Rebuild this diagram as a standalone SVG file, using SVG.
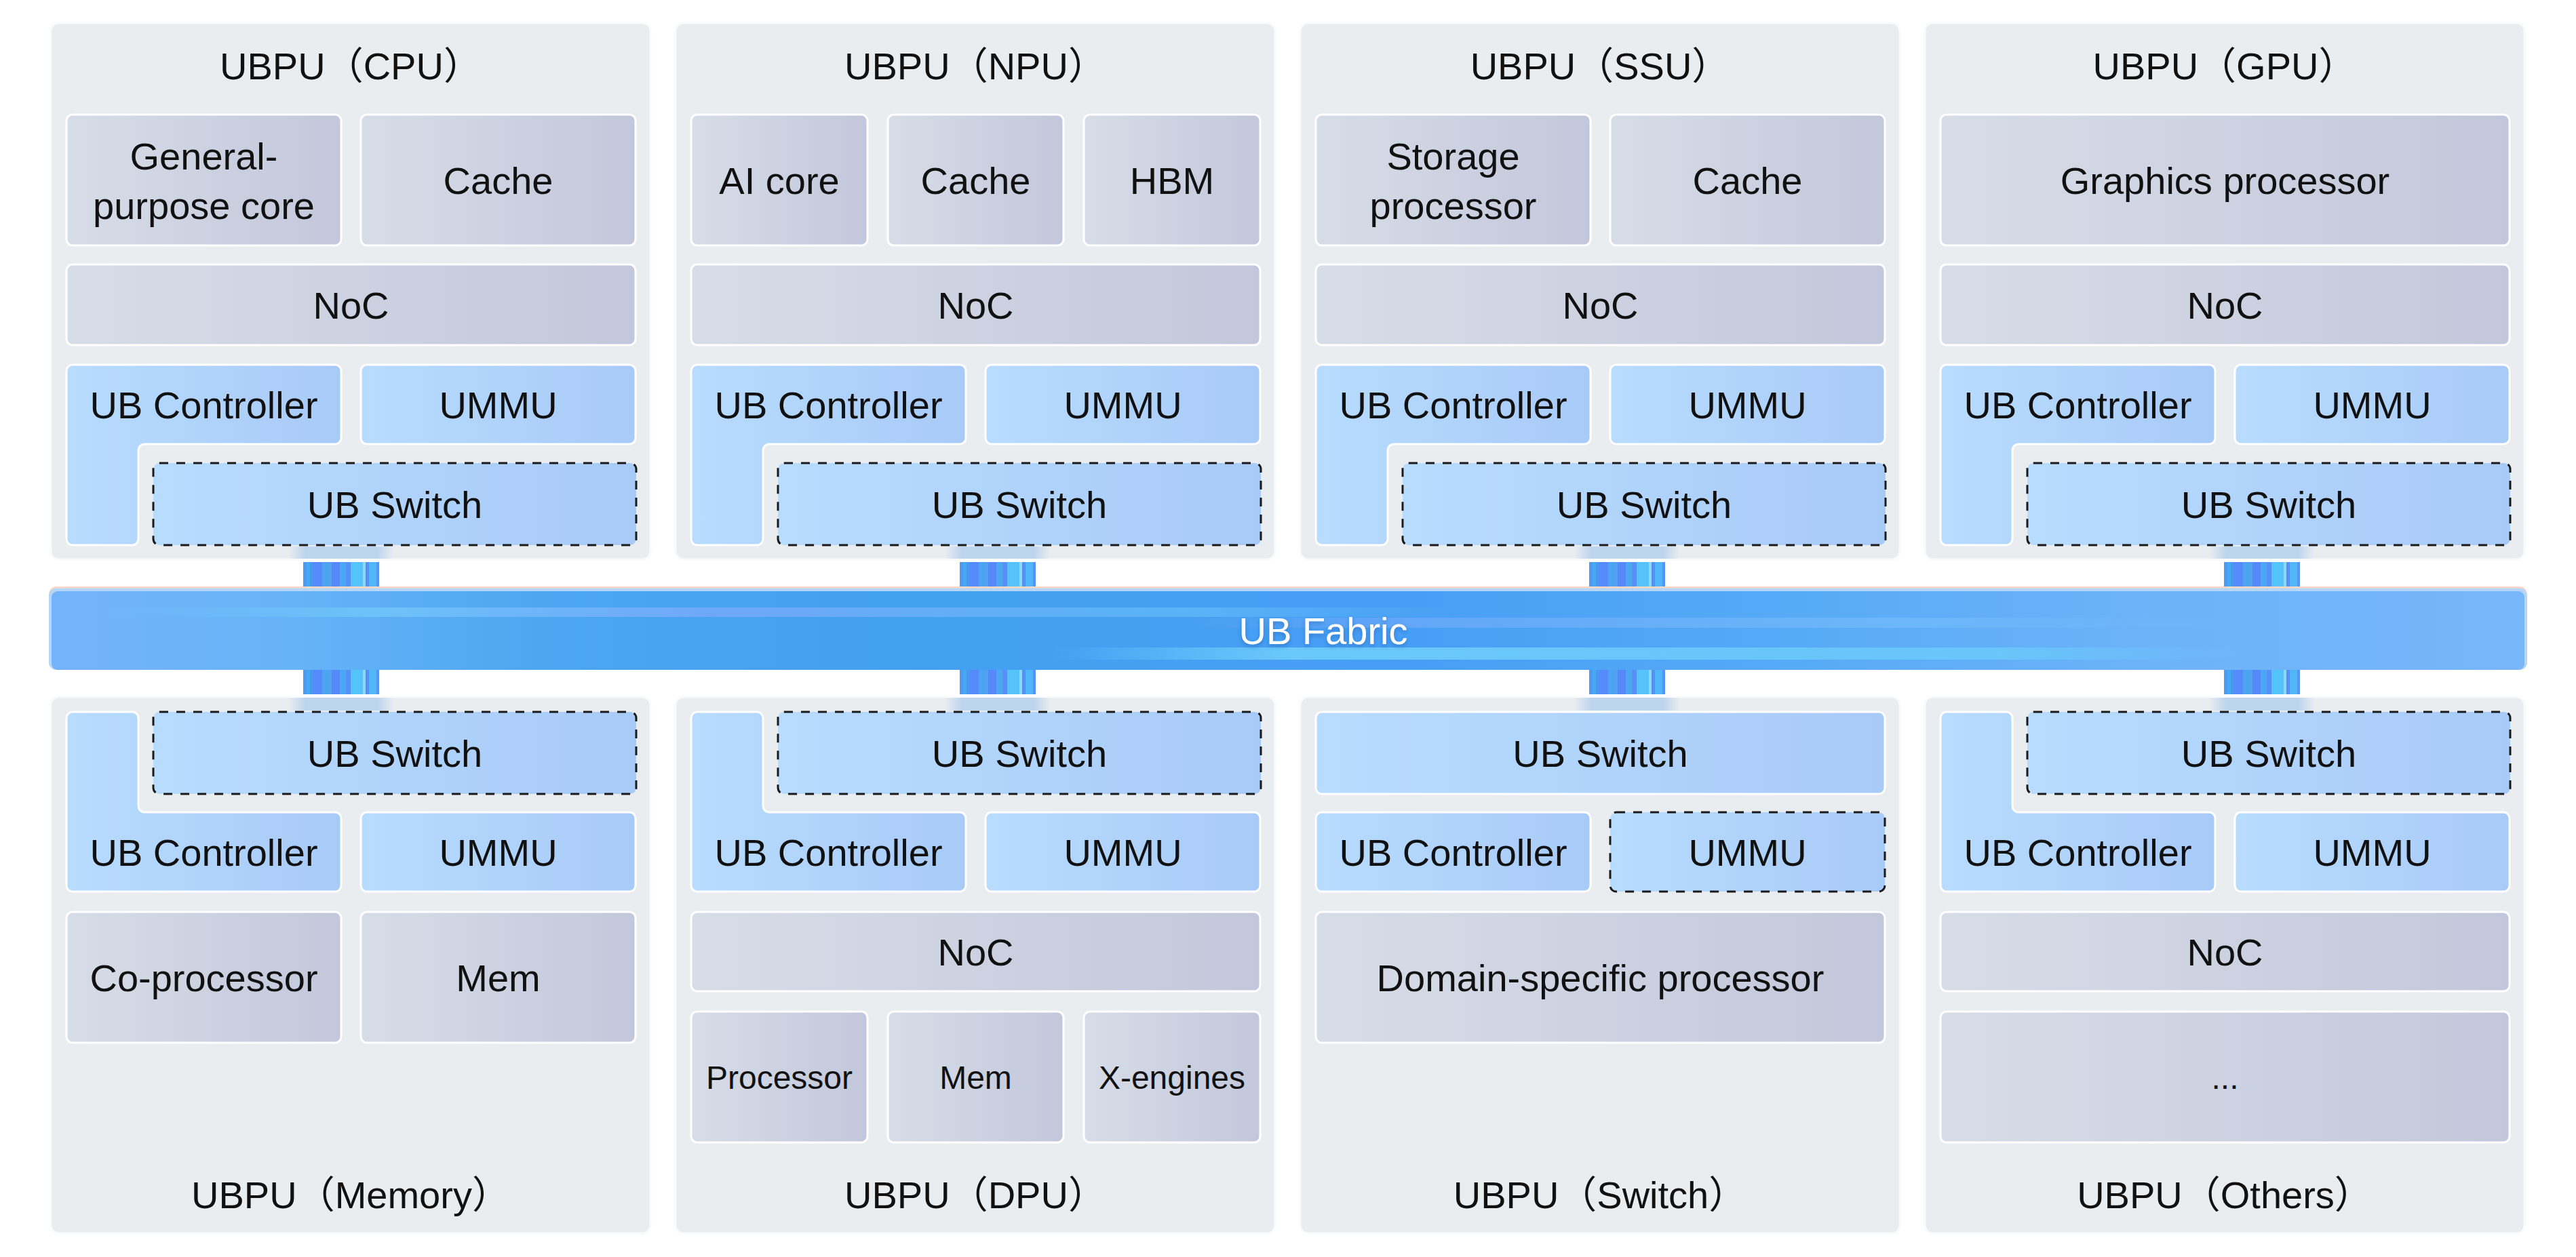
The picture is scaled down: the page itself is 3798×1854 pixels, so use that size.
<svg xmlns="http://www.w3.org/2000/svg" xmlns:xlink="http://www.w3.org/1999/xlink" width="3798" height="1854" viewBox="0 0 3798 1854">
<style>
.panel{fill:#E9EDF0;stroke:#F9FAFB;stroke-width:3}
.gray{fill:url(#gGray);stroke:#FFFFFF;stroke-width:3}
.blue{fill:url(#gBlue);stroke:#FFFFFF;stroke-width:3}
.dash{fill:url(#gBlue);stroke:#1A1A1A;stroke-width:3;stroke-dasharray:13 12}
.t{font-family:"Liberation Sans","Noto Sans CJK SC",sans-serif;font-size:56px;fill:#111111;text-anchor:middle}
.s{font-size:48px}
.fab{font-family:"Liberation Sans",sans-serif;font-size:56px;fill:#FFFFFF;text-anchor:middle;filter:url(#shadow)}
.glow{fill:url(#gGlow)}
</style>
<defs>
<linearGradient id="gGray" x1="0" y1="0" x2="1" y2="0">
<stop offset="0" stop-color="#D7DDE7"/><stop offset="1" stop-color="#C2C7DB"/>
</linearGradient>
<linearGradient id="gBlue" x1="0" y1="0" x2="1" y2="0">
<stop offset="0" stop-color="#B8DCFE"/><stop offset="1" stop-color="#A8CAF7"/>
</linearGradient>
<linearGradient id="gGlow" x1="0" y1="0" x2="1" y2="0">
<stop offset="0" stop-color="#BDD5EE" stop-opacity="0"/><stop offset="0.16" stop-color="#BDD5EE" stop-opacity="1"/><stop offset="0.84" stop-color="#BDD5EE" stop-opacity="1"/><stop offset="1" stop-color="#BDD5EE" stop-opacity="0"/>
</linearGradient>
<linearGradient id="gFab" x1="0" y1="0" x2="1" y2="0">
<stop offset="0" stop-color="#75B3F8"/><stop offset="0.1" stop-color="#66B3F7"/><stop offset="0.2" stop-color="#4CA6F0"/><stop offset="0.35" stop-color="#43A0F0"/><stop offset="0.55" stop-color="#479FF5"/><stop offset="0.7" stop-color="#56AAF6"/><stop offset="0.85" stop-color="#6DB3F8"/><stop offset="1" stop-color="#77B6F9"/>
</linearGradient>
<linearGradient id="gStreakA" x1="0" y1="0" x2="1" y2="0">
<stop offset="0" stop-color="#6EC4FA" stop-opacity="0"/><stop offset="0.2" stop-color="#6EC4FA" stop-opacity="0.9"/><stop offset="0.45" stop-color="#74A8F9" stop-opacity="0.9"/><stop offset="0.8" stop-color="#5FB9F8" stop-opacity="0.8"/><stop offset="1" stop-color="#5FB9F8" stop-opacity="0"/>
</linearGradient>
<linearGradient id="gStreakB" x1="0" y1="0" x2="1" y2="0">
<stop offset="0" stop-color="#6AA8F8" stop-opacity="0"/><stop offset="0.2" stop-color="#6AA8F8" stop-opacity="0.8"/><stop offset="0.7" stop-color="#70BAF9" stop-opacity="0.8"/><stop offset="1" stop-color="#70BAF9" stop-opacity="0"/>
</linearGradient>
<linearGradient id="gStreakC" x1="0" y1="0" x2="1" y2="0">
<stop offset="0" stop-color="#6CCBFB" stop-opacity="0"/><stop offset="0.2" stop-color="#6CCBFB" stop-opacity="0.95"/><stop offset="0.8" stop-color="#6CCBFB" stop-opacity="0.8"/><stop offset="1" stop-color="#6CCBFB" stop-opacity="0"/>
</linearGradient>
<filter id="shadow" x="-10%" y="-30%" width="120%" height="160%">
<feDropShadow dx="0" dy="3" stdDeviation="3" flood-color="#1E5AA8" flood-opacity="0.55"/>
</filter>
<g id="stripes">
<rect x="0" y="0" width="5" height="36" fill="#4B9BF2"/>
<rect x="5" y="0" width="5" height="36" fill="#45AAF0"/>
<rect x="10" y="0" width="5" height="36" fill="#4D95F5"/>
<rect x="15" y="0" width="13" height="36" fill="#558BF8"/>
<rect x="28" y="0" width="11" height="36" fill="#4AA4F0"/>
<rect x="39" y="0" width="3" height="36" fill="#55A0F4"/>
<rect x="42" y="0" width="12" height="36" fill="#5588F8"/>
<rect x="54" y="0" width="9" height="36" fill="#4BA7F1"/>
<rect x="63" y="0" width="7" height="36" fill="#5592F6"/>
<rect x="70" y="0" width="18" height="36" fill="#55C2FA"/>
<rect x="88" y="0" width="4" height="36" fill="#8FD8FB"/>
<rect x="92" y="0" width="5" height="36" fill="#5590F8"/>
<rect x="97" y="0" width="11" height="36" fill="#50B6F8"/>
<rect x="108" y="0" width="4" height="36" fill="#5A92F6"/>
</g>
<path id="Ltop" d="M32 538H419A9 9 0 0 1 428 547V646A9 9 0 0 1 419 655H138A9 9 0 0 0 129 664V795A9 9 0 0 1 120 804H32A9 9 0 0 1 23 795V547A9 9 0 0 1 32 538Z"/>
<path id="Lbot" d="M32 1050H120A9 9 0 0 1 129 1059V1189A9 9 0 0 0 138 1198H419A9 9 0 0 1 428 1207V1306A9 9 0 0 1 419 1315H32A9 9 0 0 1 23 1306V1059A9 9 0 0 1 32 1050Z"/>
</defs>
<rect width="3798" height="1854" fill="#FFFFFF"/>

<!-- Top row -->
<g id="ubpu-cpu" transform="translate(75,0)">
<rect class="panel" x="0" y="34" width="884" height="791" rx="12"/>
<rect class="glow" x="350" y="806" width="156" height="18"/>
<text class="t" x="442" y="117">UBPU（CPU）</text>
<rect class="gray" x="23" y="169" width="405" height="193" rx="9"/>
<text class="t" x="225.5" y="250">General-</text>
<text class="t" x="225.5" y="323">purpose core</text>
<rect class="gray" x="457" y="169" width="405" height="193" rx="9"/>
<text class="t" x="659.5" y="285.5">Cache</text>
<rect class="gray" x="23" y="390" width="839" height="119" rx="9"/>
<text class="t" x="442.5" y="469.5">NoC</text>
<use href="#Ltop" class="blue"/>
<text class="t" x="225.5" y="616.5">UB Controller</text>
<rect class="blue" x="457" y="538" width="405" height="117" rx="9"/>
<text class="t" x="659.5" y="616.5">UMMU</text>
<rect class="dash" x="151" y="683" width="712" height="121" rx="9"/>
<text class="t" x="507" y="763.5">UB Switch</text>
</g>

<g id="ubpu-npu" transform="translate(996,0)">
<rect class="panel" x="0" y="34" width="884" height="791" rx="12"/>
<rect class="glow" x="397" y="806" width="156" height="18"/>
<text class="t" x="442" y="117">UBPU（NPU）</text>
<rect class="gray" x="23" y="169" width="260" height="193" rx="9"/>
<text class="t" x="153" y="285.5">AI core</text>
<rect class="gray" x="313" y="169" width="259" height="193" rx="9"/>
<text class="t" x="442.5" y="285.5">Cache</text>
<rect class="gray" x="602" y="169" width="260" height="193" rx="9"/>
<text class="t" x="732" y="285.5">HBM</text>
<rect class="gray" x="23" y="390" width="839" height="119" rx="9"/>
<text class="t" x="442.5" y="469.5">NoC</text>
<use href="#Ltop" class="blue"/>
<text class="t" x="225.5" y="616.5">UB Controller</text>
<rect class="blue" x="457" y="538" width="405" height="117" rx="9"/>
<text class="t" x="659.5" y="616.5">UMMU</text>
<rect class="dash" x="151" y="683" width="712" height="121" rx="9"/>
<text class="t" x="507" y="763.5">UB Switch</text>
</g>

<g id="ubpu-ssu" transform="translate(1917,0)">
<rect class="panel" x="0" y="34" width="884" height="791" rx="12"/>
<rect class="glow" x="404" y="806" width="156" height="18"/>
<text class="t" x="442" y="117">UBPU（SSU）</text>
<rect class="gray" x="23" y="169" width="405" height="193" rx="9"/>
<text class="t" x="225.5" y="250">Storage</text>
<text class="t" x="225.5" y="323">processor</text>
<rect class="gray" x="457" y="169" width="405" height="193" rx="9"/>
<text class="t" x="659.5" y="285.5">Cache</text>
<rect class="gray" x="23" y="390" width="839" height="119" rx="9"/>
<text class="t" x="442.5" y="469.5">NoC</text>
<use href="#Ltop" class="blue"/>
<text class="t" x="225.5" y="616.5">UB Controller</text>
<rect class="blue" x="457" y="538" width="405" height="117" rx="9"/>
<text class="t" x="659.5" y="616.5">UMMU</text>
<rect class="dash" x="151" y="683" width="712" height="121" rx="9"/>
<text class="t" x="507" y="763.5">UB Switch</text>
</g>

<g id="ubpu-gpu" transform="translate(2838,0)">
<rect class="panel" x="0" y="34" width="884" height="791" rx="12"/>
<rect class="glow" x="419" y="806" width="156" height="18"/>
<text class="t" x="442" y="117">UBPU（GPU）</text>
<rect class="gray" x="23" y="169" width="839" height="193" rx="9"/>
<text class="t" x="442.5" y="285.5">Graphics processor</text>
<rect class="gray" x="23" y="390" width="839" height="119" rx="9"/>
<text class="t" x="442.5" y="469.5">NoC</text>
<use href="#Ltop" class="blue"/>
<text class="t" x="225.5" y="616.5">UB Controller</text>
<rect class="blue" x="457" y="538" width="405" height="117" rx="9"/>
<text class="t" x="659.5" y="616.5">UMMU</text>
<rect class="dash" x="151" y="683" width="712" height="121" rx="9"/>
<text class="t" x="507" y="763.5">UB Switch</text>
</g>

<!-- Bottom row -->
<g id="ubpu-memory" transform="translate(75,0)">
<rect class="panel" x="0" y="1028" width="884" height="791" rx="12"/>
<rect class="glow" x="350" y="1029" width="156" height="19"/>
<rect class="dash" x="151" y="1050" width="712" height="121" rx="9"/>
<text class="t" x="507" y="1130.5">UB Switch</text>
<use href="#Lbot" class="blue"/>
<text class="t" x="225.5" y="1276.5">UB Controller</text>
<rect class="blue" x="457" y="1198" width="405" height="117" rx="9"/>
<text class="t" x="659.5" y="1276.5">UMMU</text>
<rect class="gray" x="23" y="1345" width="405" height="193" rx="9"/>
<text class="t" x="225.5" y="1461.5">Co-processor</text>
<rect class="gray" x="457" y="1345" width="405" height="193" rx="9"/>
<text class="t" x="659.5" y="1461.5">Mem</text>
<text class="t" x="442" y="1782">UBPU（Memory）</text>
</g>

<g id="ubpu-dpu" transform="translate(996,0)">
<rect class="panel" x="0" y="1028" width="884" height="791" rx="12"/>
<rect class="glow" x="397" y="1029" width="156" height="19"/>
<rect class="dash" x="151" y="1050" width="712" height="121" rx="9"/>
<text class="t" x="507" y="1130.5">UB Switch</text>
<use href="#Lbot" class="blue"/>
<text class="t" x="225.5" y="1276.5">UB Controller</text>
<rect class="blue" x="457" y="1198" width="405" height="117" rx="9"/>
<text class="t" x="659.5" y="1276.5">UMMU</text>
<rect class="gray" x="23" y="1345" width="839" height="117" rx="9"/>
<text class="t" x="442.5" y="1423.5">NoC</text>
<rect class="gray" x="23" y="1492" width="260" height="193" rx="9"/>
<text class="t s" x="153" y="1605.5">Processor</text>
<rect class="gray" x="313" y="1492" width="259" height="193" rx="9"/>
<text class="t s" x="442.5" y="1605.5">Mem</text>
<rect class="gray" x="602" y="1492" width="260" height="193" rx="9"/>
<text class="t s" x="732" y="1605.5">X-engines</text>
<text class="t" x="442" y="1782">UBPU（DPU）</text>
</g>

<g id="ubpu-switch" transform="translate(1917,0)">
<rect class="panel" x="0" y="1028" width="884" height="791" rx="12"/>
<rect class="glow" x="404" y="1029" width="156" height="19"/>
<rect class="blue" x="23" y="1050" width="839" height="121" rx="9"/>
<text class="t" x="442.5" y="1130.5">UB Switch</text>
<rect class="blue" x="23" y="1198" width="405" height="117" rx="9"/>
<text class="t" x="225.5" y="1276.5">UB Controller</text>
<rect class="dash" x="457" y="1198" width="405" height="117" rx="9"/>
<text class="t" x="659.5" y="1276.5">UMMU</text>
<rect class="gray" x="23" y="1345" width="839" height="193" rx="9"/>
<text class="t" x="442.5" y="1461.5">Domain-specific processor</text>
<text class="t" x="442" y="1782">UBPU（Switch）</text>
</g>

<g id="ubpu-others" transform="translate(2838,0)">
<rect class="panel" x="0" y="1028" width="884" height="791" rx="12"/>
<rect class="glow" x="419" y="1029" width="156" height="19"/>
<rect class="dash" x="151" y="1050" width="712" height="121" rx="9"/>
<text class="t" x="507" y="1130.5">UB Switch</text>
<use href="#Lbot" class="blue"/>
<text class="t" x="225.5" y="1276.5">UB Controller</text>
<rect class="blue" x="457" y="1198" width="405" height="117" rx="9"/>
<text class="t" x="659.5" y="1276.5">UMMU</text>
<rect class="gray" x="23" y="1345" width="839" height="117" rx="9"/>
<text class="t" x="442.5" y="1423.5">NoC</text>
<rect class="gray" x="23" y="1492" width="839" height="193" rx="9"/>
<text class="t s" x="442.5" y="1606">...</text>
<text class="t" x="442" y="1782">UBPU（Others）</text>
</g>

<!-- Connectors -->
<g id="connectors">
<use href="#stripes" x="447" y="829"/>
<use href="#stripes" x="447" y="988"/>
<use href="#stripes" x="1415" y="829"/>
<use href="#stripes" x="1415" y="988"/>
<use href="#stripes" x="2343" y="829"/>
<use href="#stripes" x="2343" y="988"/>
<use href="#stripes" x="3279" y="829"/>
<use href="#stripes" x="3279" y="988"/>
</g>

<!-- UB Fabric -->
<g id="ub-fabric">
<rect x="72" y="865" width="3654" height="123" rx="11" fill="#FCD8C2"/>
<rect x="72" y="867.5" width="3654" height="120.5" rx="11" fill="#B4D6F9"/>
<rect x="76" y="872" width="3646" height="116" rx="9" fill="url(#gFab)"/>
<rect x="150" y="896" width="2000" height="14" fill="url(#gStreakA)"/>
<rect x="1750" y="911" width="1550" height="15" fill="url(#gStreakB)"/>
<rect x="1550" y="955" width="1750" height="18" fill="url(#gStreakC)"/>
<text class="fab" x="1951" y="950">UB Fabric</text>
</g>
</svg>
